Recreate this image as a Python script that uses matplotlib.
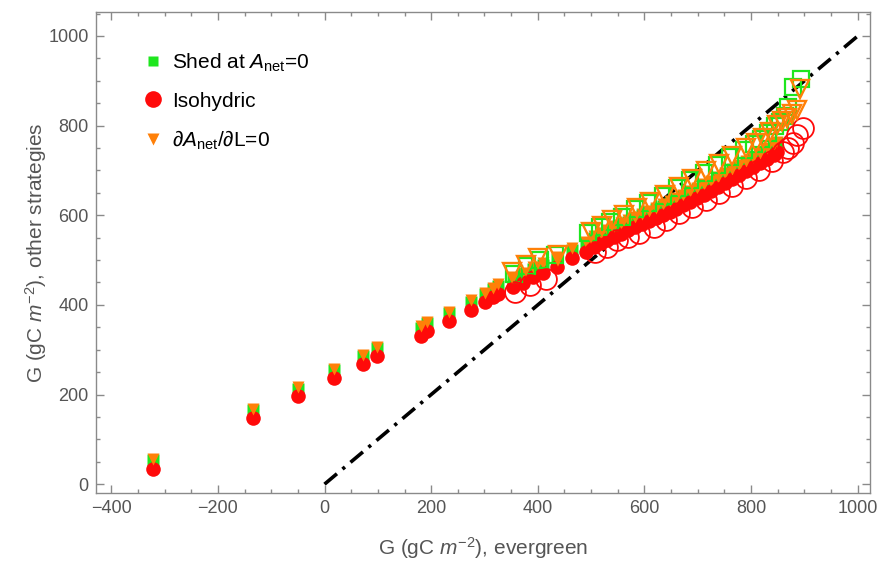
import matplotlib
matplotlib.use("Agg")
import matplotlib.pyplot as plt
from matplotlib.ticker import MultipleLocator
from matplotlib.lines import Line2D

plt.rcParams['font.family'] = ['Liberation Sans', 'DejaVu Sans']
plt.rcParams['mathtext.fontset'] = 'custom'
plt.rcParams['mathtext.rm'] = 'Liberation Sans'
plt.rcParams['mathtext.it'] = 'Liberation Sans:italic'
plt.rcParams['mathtext.bf'] = 'Liberation Sans:bold'

# ---- filled (small) markers ----
fx = [-321, -135, -50, 18, 72, 98, 180, 192, 234, 274, 301, 316, 326, 354, 373, 391, 410, 436, 464, 491,
      505, 518, 530, 543, 556, 569, 582, 595, 608, 621, 634, 647, 660, 673, 686, 699, 712, 725, 738, 751,
      764, 777, 790, 803, 816, 829, 842, 848]
f_iso = [35, 147, 196, 237, 268, 286, 331, 341, 364, 389, 406, 417, 424, 440, 449, 462, 471, 484, 504, 518,
         530, 537, 545, 552, 559, 566, 573, 580, 587, 594, 601, 608, 615, 623, 630, 638, 646, 654, 663, 671,
         680, 689, 698, 707, 716, 726, 735, 741]
f_dA = [56, 168, 216, 257, 289, 307, 352, 362, 385, 410, 427, 438, 446, 462, 471, 484, 493, 506, 526, 541,
        553, 560, 568, 575, 582, 589, 596, 603, 610, 617, 624, 631, 638, 646, 653, 661, 669, 677, 686, 694,
        703, 712, 721, 730, 739, 749, 758, 764]
f_shed = [53, 165, 213, 254, 286, 304, 349, 359, 382, 407, 424, 435, 443, 459, 468, 481, 490, 503, 523, 538,
          550, 557, 565, 572, 579, 586, 593, 600, 607, 614, 621, 628, 635, 643, 650, 658, 666, 674, 683, 691,
          700, 709, 718, 727, 736, 746, 755, 761]

# ---- hollow (large) markers ----
h_iso_x = [357, 386, 416, 508, 530, 548, 570, 590, 617, 640, 665, 690, 715, 740, 765, 790, 815, 840, 860, 870,
           879, 886, 898]
h_iso_y = [429, 444, 458, 518, 530, 545, 552, 560, 574, 590, 604, 619, 634, 650, 666, 684, 702, 722, 740, 750,
           762, 779, 795]
h_dA_x = [352, 377, 401, 437, 499, 520, 540, 561, 586, 611, 639, 665, 690, 715, 740, 765, 790, 810, 823, 836,
          848, 858, 867, 877, 886, 892]
h_dA_y = [473, 489, 504, 511, 563, 577, 589, 600, 617, 630, 646, 664, 681, 698, 715, 732, 749, 762, 772, 786,
          801, 810, 818, 826, 835, 882]
h_shed_x = [355, 380, 404, 432, 495, 516, 536, 557, 582, 607, 635, 661, 686, 711, 736, 761, 786, 806, 819, 832,
            844, 854, 863, 869, 879, 893]
h_shed_y = [470, 486, 501, 512, 560, 574, 586, 597, 614, 627, 643, 661, 678, 695, 712, 729, 746, 759, 769, 783,
            798, 809, 821, 842, 887, 904]

one_to_one = [0, 1000]

labels = [r"Shed at $A_{\mathrm{net}}$=0", "Isohydric", r"∂$A_{\mathrm{net}}$/∂L=0"]

GREEN = '#1ee61e'
RED = '#ff0a0a'
ORANGE = '#ff8008'

fig = plt.figure(figsize=(8.78, 5.64), dpi=100)
ax = fig.add_axes([0.109, 0.1264, 0.882, 0.852])

ax.plot(one_to_one, one_to_one, color='black', lw=2.6, linestyle=(0, (4.5, 2.0, 0.9, 2.0)), zorder=1)

ax.plot(fx, f_shed, 's', color=GREEN, ms=8, mec='none', zorder=2)
ax.plot(fx, f_iso, 'o', color=RED, ms=10.5, mec='none', zorder=3)
ax.plot(fx, f_dA, 'v', color=ORANGE, ms=9, mec='none', zorder=4)

ax.plot(h_shed_x, h_shed_y, 's', mfc='none', mec=GREEN, ms=11, mew=1.6, zorder=5)
ax.plot(h_iso_x, h_iso_y, 'o', mfc='none', mec=RED, ms=15, mew=1.3, zorder=5)
ax.plot(h_dA_x, h_dA_y, 'v', mfc='none', mec=ORANGE, ms=13, mew=1.7, zorder=6)

ax.set_xlim(-429, 1023)
ax.set_ylim(-19, 1053)

frame_c = '#8a8a8a'
for s in ax.spines.values():
    s.set_color(frame_c)
    s.set_linewidth(1.0)

ax.xaxis.set_major_locator(MultipleLocator(200))
ax.xaxis.set_minor_locator(MultipleLocator(50))
ax.yaxis.set_major_locator(MultipleLocator(200))
ax.yaxis.set_minor_locator(MultipleLocator(50))
ax.tick_params(which='both', direction='in', top=True, right=True, color=frame_c, width=1.0)
ax.tick_params(which='major', length=5.5, labelsize=13, labelcolor='#555555', pad=5)
ax.tick_params(which='minor', length=3)

xt = ax.get_xticks()
ax.set_xticks(xt)
ax.set_xticklabels([f"{int(v)}".replace('-', '\u2212') for v in xt])
ax.set_xlim(-429, 1023)

ax.set_xlabel(r"G (gC $m^{-2}$), evergreen", fontsize=15, color='#555555', labelpad=13)
ax.set_ylabel(r"G (gC $m^{-2}$), other strategies", fontsize=15, color='#555555')
ax.yaxis.set_label_coords(-0.06, 0.5)

handles = [Line2D([], [], ls='none', marker='s', color=GREEN, ms=7, mec='none'),
           Line2D([], [], ls='none', marker='o', color=RED, ms=12, mec='none'),
           Line2D([], [], ls='none', marker='v', color=ORANGE, ms=9, mec='none')]
ax.legend(handles, labels, loc='upper left', bbox_to_anchor=(0.05, 0.935), frameon=False,
          fontsize=15, handlelength=1.0, handletextpad=0.4, labelspacing=0.85, borderaxespad=0)

fig.savefig('out.png', dpi=100)
